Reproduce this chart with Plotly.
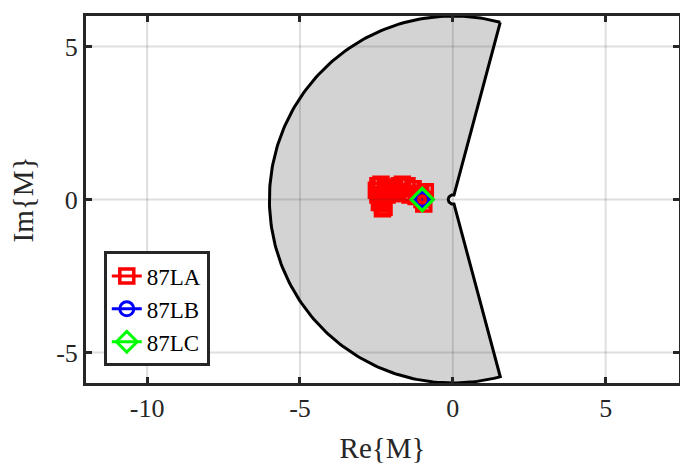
import numpy as np
import plotly.graph_objects as go

# Restraint region settings
outer_radius = 6.0
inner_radius = 0.15
block_angle_deg = 105.0

# Trajectories in the alpha plane
la_re = [-1.0, -1.1, -1.3, -1.5, -1.65, -1.75, -1.9, -2.05, -2.2, -2.35, -2.45, -2.5,
         -2.45, -2.35, -2.3, -2.25, -2.3, -2.4, -2.3, -2.15, -2.0, -1.8, -1.6, -1.4,
         -1.2, -1.05, -0.9, -0.95, -1.0]
la_im = [0.0, 0.2, 0.35, 0.45, 0.5, 0.45, 0.35, 0.3, 0.4, 0.5, 0.45, 0.3,
         0.15, 0.0, -0.15, -0.25, -0.3, -0.1, 0.05, 0.15, 0.2, 0.25, 0.2, 0.15,
         0.1, 0.2, 0.25, -0.15, 0.0]
lb_re = [-1.02, -1.0, -0.99]
lb_im = [0.0, 0.01, 0.0]
lc_re = [-1.0, -1.0]
lc_im = [0.0, 0.0]

x_range = [-12, 7.4]
y_range = [-6, 6]
x_ticks = [-10, -5, 0, 5]
y_ticks = [-5, 0, 5]

# Build restraint region boundary
a0 = np.deg2rad(180 - block_angle_deg)
a1 = np.deg2rad(180 + block_angle_deg)
t_out = np.linspace(a0, a1, 200)
t_in = np.linspace(a1, a0, 60)
px = np.concatenate([outer_radius * np.cos(t_out), inner_radius * np.cos(t_in), [outer_radius * np.cos(a0)]])
py = np.concatenate([outer_radius * np.sin(t_out), inner_radius * np.sin(t_in), [outer_radius * np.sin(a0)]])

fig = go.Figure()
fig.add_trace(go.Scatter(x=px, y=py, mode="lines", fill="toself",
                         fillcolor="#d3d3d3", line=dict(color="black", width=3),
                         showlegend=False, hoverinfo="skip"))

fig.add_trace(go.Scatter(x=la_re, y=la_im, mode="lines+markers", name="87LA",
                         line=dict(color="#ff0000", width=3),
                         marker=dict(symbol="square-open", size=14, color="#ff0000",
                                     line=dict(width=3.5, color="#ff0000"))))
fig.add_trace(go.Scatter(x=lb_re, y=lb_im, mode="lines+markers", name="87LB",
                         line=dict(color="#0000ff", width=3),
                         marker=dict(symbol="circle-open", size=14, color="#0000ff",
                                     line=dict(width=3, color="#0000ff"))))
fig.add_trace(go.Scatter(x=lc_re, y=lc_im, mode="lines+markers", name="87LC",
                         line=dict(color="#00ff00", width=3),
                         marker=dict(symbol="diamond-open", size=17, color="#00ff00",
                                     line=dict(width=3, color="#00ff00"))))

grid_col = "rgba(38,38,38,0.15)"
for xv in x_ticks:
    fig.add_shape(type="line", xref="x", yref="paper", x0=xv, x1=xv, y0=0, y1=1,
                  line=dict(color=grid_col, width=2), layer="above")
for yv in y_ticks:
    fig.add_shape(type="line", xref="paper", yref="y", x0=0, x1=1, y0=yv, y1=yv,
                  line=dict(color=grid_col, width=2), layer="above")

font = dict(family="Liberation Serif", size=26, color="#262626")
title_font = dict(family="Liberation Serif", size=29, color="#262626")
legend_font = dict(family="Liberation Serif", size=23, color="#000000")
axis_common = dict(showgrid=False, zeroline=False, showline=True, linecolor="#262626",
                   linewidth=3, mirror="ticks", ticks="inside", ticklen=6, tickwidth=3,
                   tickcolor="#262626", tickfont=font, layer="above traces",
                   automargin=False)
fig.update_xaxes(range=x_range, tickvals=x_ticks, ticktext=[str(v) for v in x_ticks],
                 title=dict(text="Re{M}", font=title_font, standoff=16), **axis_common)
fig.update_yaxes(range=y_range, tickvals=y_ticks, ticktext=[str(v) for v in y_ticks],
                 title=dict(text="Im{M}", font=title_font, standoff=14), **axis_common)

fig.update_layout(width=680, height=466, margin=dict(l=86, r=1, t=16, b=83),
                  plot_bgcolor="white", paper_bgcolor="white", font=font,
                  legend=dict(x=0.03, y=0.045, xanchor="left", yanchor="bottom",
                              bgcolor="white", bordercolor="#262626", borderwidth=3,
                              font=legend_font, tracegroupgap=0, itemwidth=30))
fig.write_html("out.html", config={"displayModeBar": False},
               post_script="document.body.style.margin='0px';")
